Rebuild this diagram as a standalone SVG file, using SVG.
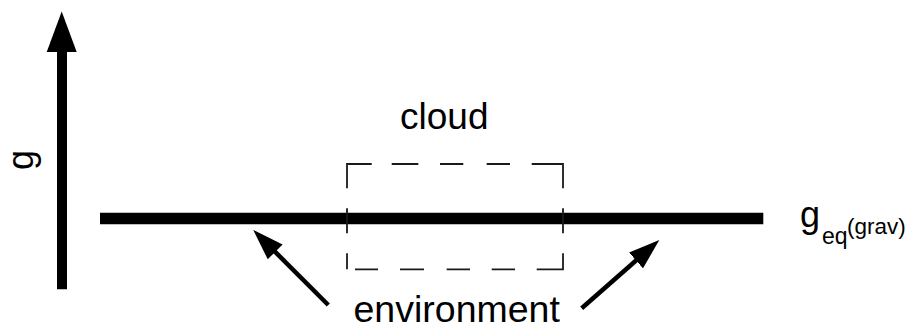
<svg xmlns="http://www.w3.org/2000/svg" width="909" height="330" viewBox="0 0 909 330">
<style>
.t{font-family:"Liberation Sans",Arial,sans-serif;fill:#000}
.dash{stroke:#1a1a1a;stroke-width:1.8;fill:none;stroke-linecap:butt}
.arr{stroke:#000;stroke-width:4.5;fill:none}
</style>
<defs>
<marker id="head" markerUnits="userSpaceOnUse" viewBox="0 0 31 21" refX="11" refY="10.5" markerWidth="31" markerHeight="21" orient="auto">
<path d="M0,0 L31,10.5 L0,21 Z" fill="#000"/>
</marker>
</defs>
<rect width="909" height="330" fill="#fff"/>
<g id="g-axis">
<line x1="62" y1="289.3" x2="62" y2="50" stroke="#000" stroke-width="10"/>
<polygon points="61.7,11.5 76.7,52 46.7,52" fill="#000"/>
<text class="t" font-size="36" text-anchor="middle" transform="translate(33,160) rotate(-90)">g</text>
</g>
<g id="geq-line">
<line x1="100" y1="218.5" x2="763.3" y2="218.5" stroke="#000" stroke-width="11.5"/>
<text class="t" x="800" y="226.7" font-size="36">g</text>
<text class="t" x="822" y="243.5" font-size="23">eq</text>
<text class="t" x="847" y="233.5" font-size="22.5">(grav)</text>
</g>
<g id="cloud">
<path class="dash" d="M347,188.3 V164 H371.7 M391.7,164 H418.3 M440,164 H463.3 M486.7,164 H510 M531.7,164 H563 V188.3 M347,208.3 V233.3 M563,208.3 V233.3 M347,253.3 V269.3 M355,269.3 H378 M400,269.3 H424 M446.7,269.3 H470 M491.7,269.3 H515 M536.7,269.3 H563 V253.3"/>
<text class="t" x="400" y="129.3" font-size="37">cloud</text>
</g>
<g id="environment">
<text class="t" x="353.5" y="322" font-size="37.5">environment</text>
</g>
<g id="connectors">
<line class="arr" x1="328.3" y1="305" x2="267.4" y2="244.1" marker-end="url(#head)"/>
<line class="arr" x1="581.7" y1="308.3" x2="644.3" y2="253.2" marker-end="url(#head)"/>
</g>
</svg>
